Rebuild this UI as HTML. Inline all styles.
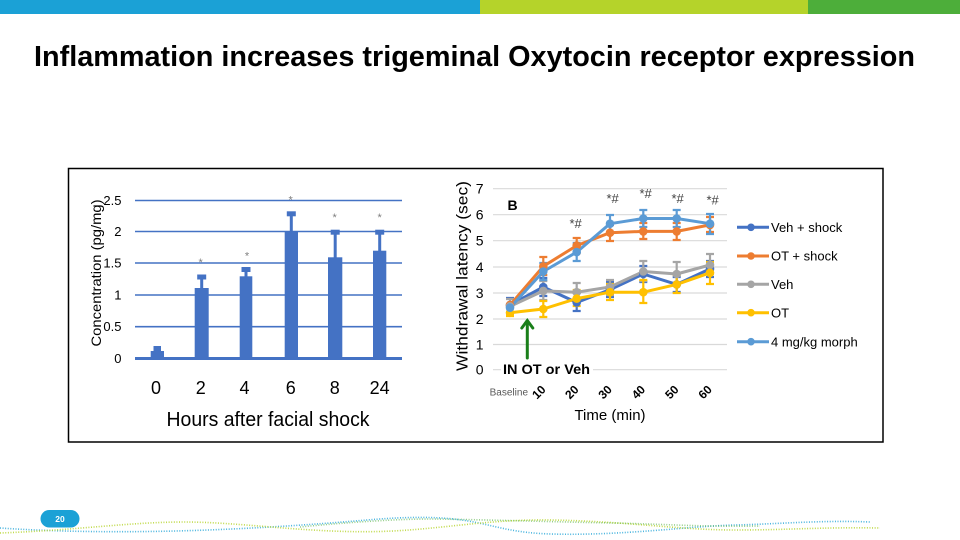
<!DOCTYPE html>
<html><head><meta charset="utf-8"><style>
html,body{margin:0;padding:0;background:#fff;}
svg{display:block;}
text{font-family:"Liberation Sans",Arial,sans-serif;}
</style></head><body>
<svg width="960" height="540" viewBox="0 0 960 540" xmlns="http://www.w3.org/2000/svg">
<!-- top bar -->
<rect x="0" y="0" width="481" height="14" fill="#1BA1D6"/>
<rect x="480" y="0" width="329" height="14" fill="#B5D32A"/>
<rect x="808" y="0" width="152" height="14" fill="#4DAE3A"/>
<!-- title -->
<text x="34" y="66" font-size="29" font-weight="bold" fill="#000" textLength="881" lengthAdjust="spacingAndGlyphs">Inflammation increases trigeminal Oxytocin receptor expression</text>
<!-- box -->
<rect x="68.5" y="168.5" width="814.5" height="273.5" fill="none" stroke="#000" stroke-width="1.5"/>

<!-- LEFT CHART -->
<g stroke="#4472C4" stroke-width="1.6">
<line x1="135" y1="200.5" x2="402" y2="200.5"/>
<line x1="135" y1="231.5" x2="402" y2="231.5"/>
<line x1="135" y1="263" x2="402" y2="263"/>
<line x1="135" y1="295" x2="402" y2="295"/>
<line x1="135" y1="326.7" x2="402" y2="326.7"/>
</g>
<line x1="135" y1="358.5" x2="402" y2="358.5" stroke="#4472C4" stroke-width="3"/>
<g fill="#4472C4">
<rect x="150.7" y="351" width="13.3" height="8"/>
<rect x="153.5" y="346" width="7.5" height="5"/>
<rect x="194.7" y="288" width="14" height="71"/>
<rect x="200.2" y="276" width="3" height="12"/><rect x="197.2" y="274.5" width="9" height="5"/>
<rect x="239.7" y="276.3" width="12.6" height="82"/>
<rect x="244.5" y="268" width="3" height="9"/><rect x="241.5" y="267" width="9" height="5"/>
<rect x="284.7" y="231.3" width="13.3" height="127"/>
<rect x="289.8" y="213" width="3" height="19"/><rect x="286.8" y="211.3" width="9" height="5"/>
<rect x="328" y="257.3" width="14.3" height="101"/>
<rect x="333.7" y="231" width="3" height="27"/><rect x="330.7" y="229.7" width="9" height="5"/>
<rect x="373" y="250.7" width="13.3" height="108"/>
<rect x="378.2" y="231" width="3" height="20"/><rect x="375.2" y="229.7" width="9" height="5"/>
</g>
<g fill="#7F7F7F" font-size="11" text-anchor="middle">
<text x="200.7" y="266">*</text>
<text x="247" y="259.5">*</text>
<text x="290.7" y="203.5">*</text>
<text x="334.7" y="221">*</text>
<text x="379.7" y="221">*</text>
</g>
<g fill="#000" font-size="13" text-anchor="end">
<text x="121.5" y="205">2.5</text>
<text x="121.5" y="236">2</text>
<text x="121.5" y="267.5">1.5</text>
<text x="121.5" y="299.5">1</text>
<text x="121.5" y="331">0.5</text>
<text x="121.5" y="363">0</text>
</g>
<text transform="translate(101,273) rotate(-90)" x="0" y="0" font-size="14" text-anchor="middle" fill="#000" textLength="147" lengthAdjust="spacingAndGlyphs">Concentration (pg/mg)</text>
<g fill="#000" font-size="18" text-anchor="middle">
<text x="156" y="394">0</text>
<text x="200.7" y="394">2</text>
<text x="244.5" y="394">4</text>
<text x="290.7" y="394">6</text>
<text x="334.7" y="394">8</text>
<text x="379.7" y="394">24</text>
</g>
<text x="268" y="426" font-size="20" text-anchor="middle" fill="#000" textLength="203" lengthAdjust="spacingAndGlyphs">Hours after facial  shock</text>

<!-- RIGHT CHART -->
<g stroke="#D9D9D9" stroke-width="1.2">
<line x1="493" y1="188.7" x2="727" y2="188.7"/>
<line x1="493" y1="214.7" x2="727" y2="214.7"/>
<line x1="493" y1="240.7" x2="727" y2="240.7"/>
<line x1="493" y1="267" x2="727" y2="267"/>
<line x1="493" y1="293" x2="727" y2="293"/>
<line x1="493" y1="319" x2="727" y2="319"/>
<line x1="493" y1="344.5" x2="727" y2="344.5"/>
<line x1="493" y1="369.7" x2="727" y2="369.7"/>
</g>
<g fill="#000" font-size="14" text-anchor="end">
<text x="483.5" y="193.7">7</text>
<text x="483.5" y="219.7">6</text>
<text x="483.5" y="245.7">5</text>
<text x="483.5" y="272">4</text>
<text x="483.5" y="298">3</text>
<text x="483.5" y="324">2</text>
<text x="483.5" y="349.5">1</text>
<text x="483.5" y="374.7">0</text>
</g>
<text transform="translate(467.5,276) rotate(-90)" x="0" y="0" font-size="16" text-anchor="middle" fill="#000" textLength="190" lengthAdjust="spacingAndGlyphs">Withdrawal latency (sec)</text>
<text x="507.5" y="210" font-size="14" font-weight="bold" fill="#000">B</text>

<!-- series -->
<g fill="none" stroke-width="2.2">
<!-- Veh + shock -->
<g stroke="#4472C4">
<path d="M510 298v14M543.3 278v18M576.7 293v18M610 282v15M643.3 266v16M676.7 277v15M710 261v16"/>
<path d="M506 298h8M506 312h8M539.3 278h8M539.3 296h8M572.7 293h8M572.7 311h8M606 282h8M606 297h8M639.3 266h8M639.3 282h8M672.7 277h8M672.7 292h8M706 261h8M706 277h8"/>
</g>
<!-- OT + shock -->
<g stroke="#ED7D31">
<path d="M543.3 257v18M576.7 238v15M610 225v16M643.3 223v16M676.7 223v17M710 217v15"/>
<path d="M539.3 257h8M539.3 275h8M572.7 238h8M572.7 253h8M606 225h8M606 241h8M639.3 223h8M639.3 239h8M672.7 223h8M672.7 240h8M706 217h8M706 232h8"/>
</g>
<!-- Veh -->
<g stroke="#A5A5A5">
<path d="M510 299v15M543.3 281v19M576.7 283v17M610 280v15M643.3 261v20M676.7 262v22M710 254v20"/>
<path d="M506 299h8M506 314h8M539.3 281h8M539.3 300h8M572.7 283h8M572.7 300h8M606 280h8M606 295h8M639.3 261h8M639.3 281h8M672.7 262h8M672.7 284h8M706 254h8M706 274h8"/>
</g>
<!-- OT -->
<g stroke="#FFC000">
<path d="M510 308v8M543.3 301v16M576.7 290v16M610 284v16M643.3 280v23M676.7 275v18M710 262v22"/>
<path d="M506 308h8M506 316h8M539.3 301h8M539.3 317h8M572.7 290h8M572.7 306h8M606 284h8M606 300h8M639.3 280h8M639.3 303h8M672.7 275h8M672.7 293h8M706 262h8M706 284h8"/>
</g>
<!-- morph -->
<g stroke="#5B9BD5">
<path d="M543.3 263v17M576.7 243v18M610 215v18M643.3 210v17M676.7 210v17M710 214v20"/>
<path d="M539.3 263h8M539.3 280h8M572.7 243h8M572.7 261h8M606 215h8M606 233h8M639.3 210h8M639.3 227h8M672.7 210h8M672.7 227h8M706 214h8M706 234h8"/>
</g>
</g>
<g fill="none" stroke-width="3" stroke-linejoin="round">
<polyline stroke="#4472C4" points="510,305.1 543.3,287 576.7,302.5 610,289.6 643.3,274 676.7,284.4 710,268.9"/>
<polyline stroke="#ED7D31" points="510,305.1 543.3,266.3 576.7,245.6 610,232.7 643.3,231.4 676.7,231.4 710,224.9"/>
<polyline stroke="#A5A5A5" points="510,306.4 543.3,290.9 576.7,292.2 610,287 643.3,271.5 676.7,274 710,265"/>
<polyline stroke="#FFC000" points="510,312.8 543.3,309 576.7,298.6 610,292.2 643.3,292.2 676.7,284.4 710,272.8"/>
<polyline stroke="#5B9BD5" points="510,307.7 543.3,271.5 576.7,252.1 610,223.7 643.3,218.5 676.7,218.5 710,223.7"/>
</g>
<g fill="#4472C4"><circle cx="510" cy="305.1" r="4.3"/><circle cx="543.3" cy="287" r="4.3"/><circle cx="576.7" cy="302.5" r="4.3"/><circle cx="610" cy="289.6" r="4.3"/><circle cx="643.3" cy="274" r="4.3"/><circle cx="676.7" cy="284.4" r="4.3"/><circle cx="710" cy="268.9" r="4.3"/></g>
<g fill="#ED7D31"><circle cx="510" cy="305.1" r="4.3"/><circle cx="543.3" cy="266.3" r="4.3"/><circle cx="576.7" cy="245.6" r="4.3"/><circle cx="610" cy="232.7" r="4.3"/><circle cx="643.3" cy="231.4" r="4.3"/><circle cx="676.7" cy="231.4" r="4.3"/><circle cx="710" cy="224.9" r="4.3"/></g>
<g fill="#A5A5A5"><circle cx="510" cy="306.4" r="4.3"/><circle cx="543.3" cy="290.9" r="4.3"/><circle cx="576.7" cy="292.2" r="4.3"/><circle cx="610" cy="287" r="4.3"/><circle cx="643.3" cy="271.5" r="4.3"/><circle cx="676.7" cy="274" r="4.3"/><circle cx="710" cy="265" r="4.3"/></g>
<g fill="#FFC000"><circle cx="510" cy="312.8" r="4.3"/><circle cx="543.3" cy="309" r="4.3"/><circle cx="576.7" cy="298.6" r="4.3"/><circle cx="610" cy="292.2" r="4.3"/><circle cx="643.3" cy="292.2" r="4.3"/><circle cx="676.7" cy="284.4" r="4.3"/><circle cx="710" cy="272.8" r="4.3"/></g>
<g fill="#5B9BD5"><circle cx="510" cy="307.7" r="4.3"/><circle cx="543.3" cy="271.5" r="4.3"/><circle cx="576.7" cy="252.1" r="4.3"/><circle cx="610" cy="223.7" r="4.3"/><circle cx="643.3" cy="218.5" r="4.3"/><circle cx="676.7" cy="218.5" r="4.3"/><circle cx="710" cy="223.7" r="4.3"/></g>

<!-- *# annotations -->
<g fill="#404040" font-size="13">
<text x="569.5" y="228">*#</text>
<text x="606.5" y="203">*#</text>
<text x="639.5" y="198">*#</text>
<text x="671.5" y="203">*#</text>
<text x="706.5" y="204.5">*#</text>
</g>

<!-- arrow and label -->
<g stroke="#1A7F1A" stroke-width="3" fill="none" stroke-linecap="round">
<line x1="527.3" y1="358" x2="527.3" y2="321"/>
<polyline points="521.8,328 527.3,320.5 532.8,328"/>
</g>
<rect x="501" y="362" width="92" height="14" fill="#fff"/>
<text x="503" y="374" font-size="14" font-weight="bold" fill="#000" textLength="87" lengthAdjust="spacingAndGlyphs">IN OT or Veh</text>

<!-- x tick labels -->
<text x="528" y="395.5" font-size="10" text-anchor="end" fill="#595959">Baseline</text>
<g fill="#000" font-size="12" font-weight="bold" text-anchor="middle">
<text transform="translate(541.7,395) rotate(-45)">10</text>
<text transform="translate(574.7,395) rotate(-45)">20</text>
<text transform="translate(608,395) rotate(-45)">30</text>
<text transform="translate(641.3,395) rotate(-45)">40</text>
<text transform="translate(674.7,395) rotate(-45)">50</text>
<text transform="translate(708,395) rotate(-45)">60</text>
</g>
<text x="610" y="420" font-size="15" text-anchor="middle" fill="#000">Time (min)</text>

<!-- legend -->
<g stroke-width="3">
<line x1="737" y1="227.3" x2="769" y2="227.3" stroke="#4472C4"/>
<line x1="737" y1="256" x2="769" y2="256" stroke="#ED7D31"/>
<line x1="737" y1="284.3" x2="769" y2="284.3" stroke="#A5A5A5"/>
<line x1="737" y1="312.7" x2="769" y2="312.7" stroke="#FFC000"/>
<line x1="737" y1="341.7" x2="769" y2="341.7" stroke="#5B9BD5"/>
</g>
<circle cx="751" cy="227.3" r="3.8" fill="#4472C4"/>
<circle cx="751" cy="256" r="3.8" fill="#ED7D31"/>
<circle cx="751" cy="284.3" r="3.8" fill="#A5A5A5"/>
<circle cx="751" cy="312.7" r="3.8" fill="#FFC000"/>
<circle cx="751" cy="341.7" r="3.8" fill="#5B9BD5"/>
<g fill="#000" font-size="13">
<text x="771" y="232">Veh + shock</text>
<text x="771" y="260.7">OT + shock</text>
<text x="771" y="289">Veh</text>
<text x="771" y="317.4">OT</text>
<text x="771" y="346.4">4 mg/kg morph</text>
</g>

<!-- footer waves -->
<g fill="none" stroke-width="1.6" stroke-dasharray="1 1.6">
<path d="M0 528 C120 536 250 530 367 520 S480 532 551 534 S690 526 735 525 S820 520 870 522" stroke="#1BA1D6" opacity="0.8"/>
<path d="M0 533 C80 530 130 522 184 522 S300 532 367 531.7 S480 519 551 520 S680 530 735 530 S820 527 880 528" stroke="#B5D32A" opacity="0.85"/>
<path d="M300 527 C350 522 400 519 429 519 S560 522 612 523 S700 527 760 526" stroke="#4DAE3A" opacity="0.6"/>
</g>
<rect x="40.5" y="510" width="39" height="17.5" rx="8.75" fill="#1BA1D6"/>
<text x="60" y="522" font-size="8.5" font-weight="bold" fill="#fff" text-anchor="middle">20</text>
</svg>
</body></html>
